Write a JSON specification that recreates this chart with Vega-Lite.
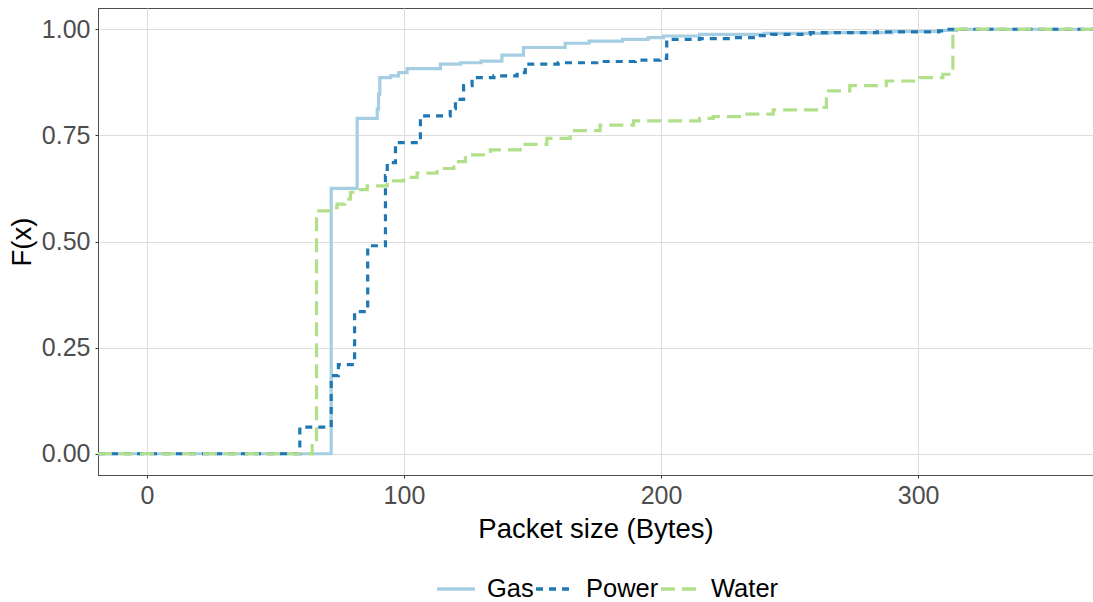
{
  "$schema": "https://vega.github.io/schema/vega-lite/v6.json",
  "autosize": {"type": "none"},
  "width": 995,
  "height": 467,
  "padding": {"left": 98, "top": 8, "right": 0, "bottom": 127},
  "background": "white",
  "config": {
    "font": "Liberation Sans",
    "view": {"stroke": "#4d4d4d", "strokeWidth": 1},
    "axis": {
      "grid": true,
      "gridColor": "#dcdcdc",
      "gridWidth": 1,
      "domainColor": "#4d4d4d",
      "tickColor": "#333333",
      "tickSize": 3,
      "labelFont": "Liberation Sans",
      "labelFontSize": 25,
      "labelColor": "#4d4d4d",
      "titleFont": "Liberation Sans",
      "titleFontSize": 27.5,
      "titleFontWeight": "normal",
      "titleColor": "#000000"
    },
    "legend": {
      "labelFont": "Liberation Sans",
      "labelFontSize": 25.5,
      "labelColor": "#000000"
    }
  },
  "data": {
    "values": [
      {"series": "Gas", "x": -19, "F": 0},
      {"series": "Gas", "x": 71.7, "F": 0.625},
      {"series": "Gas", "x": 81.8, "F": 0.79},
      {"series": "Gas", "x": 89.6, "F": 0.812},
      {"series": "Gas", "x": 90.1, "F": 0.847},
      {"series": "Gas", "x": 90.6, "F": 0.886},
      {"series": "Gas", "x": 94.8, "F": 0.89},
      {"series": "Gas", "x": 97.9, "F": 0.898},
      {"series": "Gas", "x": 101.2, "F": 0.907},
      {"series": "Gas", "x": 114.2, "F": 0.918},
      {"series": "Gas", "x": 122, "F": 0.921},
      {"series": "Gas", "x": 130, "F": 0.925},
      {"series": "Gas", "x": 138.1, "F": 0.939},
      {"series": "Gas", "x": 146.5, "F": 0.957},
      {"series": "Gas", "x": 162.7, "F": 0.967},
      {"series": "Gas", "x": 172, "F": 0.972},
      {"series": "Gas", "x": 185, "F": 0.976},
      {"series": "Gas", "x": 195, "F": 0.98},
      {"series": "Gas", "x": 200.9, "F": 0.984},
      {"series": "Gas", "x": 215, "F": 0.988},
      {"series": "Gas", "x": 240, "F": 0.99},
      {"series": "Gas", "x": 265, "F": 0.992},
      {"series": "Gas", "x": 290, "F": 0.995},
      {"series": "Gas", "x": 308, "F": 0.997},
      {"series": "Gas", "x": 315, "F": 1.0},
      {"series": "Gas", "x": 368, "F": 1.0},
      {"series": "Power", "x": -19, "F": 0},
      {"series": "Power", "x": 59.5, "F": 0.063},
      {"series": "Power", "x": 71.7, "F": 0.184},
      {"series": "Power", "x": 74.5, "F": 0.21},
      {"series": "Power", "x": 80.8, "F": 0.335},
      {"series": "Power", "x": 85.9, "F": 0.49},
      {"series": "Power", "x": 92.8, "F": 0.655},
      {"series": "Power", "x": 93.5, "F": 0.686},
      {"series": "Power", "x": 96.7, "F": 0.733},
      {"series": "Power", "x": 106.4, "F": 0.796},
      {"series": "Power", "x": 118, "F": 0.813},
      {"series": "Power", "x": 120, "F": 0.835},
      {"series": "Power", "x": 123.2, "F": 0.867},
      {"series": "Power", "x": 126.5, "F": 0.886},
      {"series": "Power", "x": 135, "F": 0.89},
      {"series": "Power", "x": 144, "F": 0.898},
      {"series": "Power", "x": 147.2, "F": 0.918},
      {"series": "Power", "x": 160, "F": 0.921},
      {"series": "Power", "x": 175, "F": 0.924},
      {"series": "Power", "x": 190, "F": 0.927},
      {"series": "Power", "x": 199.6, "F": 0.931},
      {"series": "Power", "x": 202.2, "F": 0.976},
      {"series": "Power", "x": 215, "F": 0.978},
      {"series": "Power", "x": 227, "F": 0.98},
      {"series": "Power", "x": 238, "F": 0.985},
      {"series": "Power", "x": 243, "F": 0.988},
      {"series": "Power", "x": 258, "F": 0.992},
      {"series": "Power", "x": 284, "F": 0.994},
      {"series": "Power", "x": 308, "F": 0.996},
      {"series": "Power", "x": 310, "F": 1.0},
      {"series": "Power", "x": 368, "F": 1.0},
      {"series": "Water", "x": -19, "F": 0},
      {"series": "Water", "x": 64.3, "F": 0.027},
      {"series": "Water", "x": 66, "F": 0.572},
      {"series": "Water", "x": 71, "F": 0.58},
      {"series": "Water", "x": 74, "F": 0.588},
      {"series": "Water", "x": 77, "F": 0.6},
      {"series": "Water", "x": 79.2, "F": 0.616},
      {"series": "Water", "x": 82, "F": 0.622},
      {"series": "Water", "x": 85.7, "F": 0.631},
      {"series": "Water", "x": 93.5, "F": 0.643},
      {"series": "Water", "x": 99.9, "F": 0.651},
      {"series": "Water", "x": 105.1, "F": 0.661},
      {"series": "Water", "x": 112.9, "F": 0.672},
      {"series": "Water", "x": 119.4, "F": 0.688},
      {"series": "Water", "x": 123.9, "F": 0.704},
      {"series": "Water", "x": 133.6, "F": 0.716},
      {"series": "Water", "x": 145.2, "F": 0.729},
      {"series": "Water", "x": 155.6, "F": 0.743},
      {"series": "Water", "x": 164.7, "F": 0.761},
      {"series": "Water", "x": 176.3, "F": 0.774},
      {"series": "Water", "x": 189.3, "F": 0.784},
      {"series": "Water", "x": 215, "F": 0.79},
      {"series": "Water", "x": 220.3, "F": 0.794},
      {"series": "Water", "x": 232, "F": 0.8},
      {"series": "Water", "x": 243.6, "F": 0.81},
      {"series": "Water", "x": 261.7, "F": 0.816},
      {"series": "Water", "x": 264.3, "F": 0.855},
      {"series": "Water", "x": 273.4, "F": 0.867},
      {"series": "Water", "x": 287.6, "F": 0.878},
      {"series": "Water", "x": 300.6, "F": 0.886},
      {"series": "Water", "x": 309.6, "F": 0.894},
      {"series": "Water", "x": 313.5, "F": 1.0},
      {"series": "Water", "x": 368, "F": 1.0}
    ]
  },
  "mark": {"type": "line", "interpolate": "step-after", "strokeWidth": 3.2, "clip": true},
  "encoding": {
    "x": {
      "field": "x",
      "type": "quantitative",
      "scale": {"domain": [-19, 368], "nice": false, "zero": false},
      "axis": {"title": "Packet size (Bytes)", "values": [0, 100, 200, 300], "labelPadding": 5, "titlePadding": 7}
    },
    "y": {
      "field": "F",
      "type": "quantitative",
      "scale": {"domain": [-0.05, 1.05], "nice": false, "zero": false},
      "axis": {"title": "F(x)", "values": [0, 0.25, 0.5, 0.75, 1], "format": ".2f", "labelPadding": 5, "titlePadding": 5}
    },
    "color": {
      "field": "series",
      "type": "nominal",
      "scale": {"domain": ["Gas", "Power", "Water"], "range": ["#a6cee3", "#1f78b4", "#b2df8a"]},
      "legend": {
        "title": null,
        "orient": "none",
        "direction": "horizontal",
        "legendX": 337,
        "legendY": 560,
        "padding": 0,
        "gridAlign": "none",
        "symbolType": "stroke",
        "symbolSize": 1444,
        "symbolStrokeWidth": 3.5,
        "labelOffset": 10,
        "columnPadding": -5
      }
    },
    "strokeDash": {
      "field": "series",
      "type": "nominal",
      "scale": {"domain": ["Gas", "Power", "Water"], "range": [[1, 0], [7, 6], [14, 7]]},
      "legend": {
        "title": null,
        "orient": "none",
        "direction": "horizontal",
        "legendX": 337,
        "legendY": 560,
        "padding": 0,
        "gridAlign": "none",
        "symbolType": "stroke",
        "symbolSize": 1444,
        "symbolStrokeWidth": 3.5,
        "labelOffset": 10,
        "columnPadding": -5
      }
    }
  }
}
